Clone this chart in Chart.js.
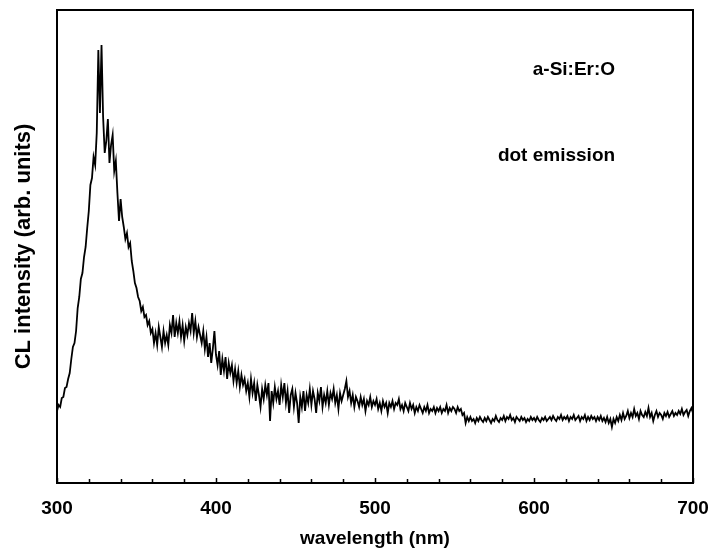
<!DOCTYPE html>
<html>
<head>
<meta charset="utf-8">
<script src="https://cdn.jsdelivr.net/npm/chart.js@4"></script>
<style>
  html, body { margin: 0; padding: 0; background: #fff; }
  #wrap { width: 713px; height: 550px; }
</style>
</head>
<body>
<div id="wrap"><canvas id="clChart" width="713" height="550"></canvas></div>
<script>
// CL spectrum, a-Si:Er:O dot emission (arb. units), 1 nm steps from 300 nm
const startWavelength = 300;
const intensity = [
  72, 78, 76, 85, 86, 95, 96, 104, 110, 124,
  136, 140, 152, 175, 186, 204, 210, 226, 236, 255,
  272, 298, 305, 326, 318, 350, 433, 370, 438, 366,
  330, 342, 364, 320, 338, 348, 312, 322, 290, 262,
  284, 266, 256, 244, 250, 236, 240, 222, 212, 200,
  195, 186, 182, 172, 176, 166, 168, 158, 162, 150,
  154, 140, 150, 138, 156, 146, 136, 152, 140, 148,
  138, 158, 150, 168, 146, 160, 150, 162, 146, 158,
  142, 156, 148, 160, 152, 170, 150, 162, 146, 156,
  148, 140, 152, 134, 146, 126, 140, 120, 134, 152,
  128, 118, 132, 108, 124, 112, 126, 104, 120, 110,
  118, 102, 114, 100, 112, 96, 108, 98, 104, 92,
  100, 86, 104, 90, 100, 82, 98, 88, 76, 94,
  84, 98, 88, 100, 62, 92, 80, 96, 84, 92,
  78, 98, 86, 100, 80, 92, 70, 88, 94, 76,
  90, 80, 60, 86, 76, 92, 72, 88, 80, 94,
  78, 92, 84, 70, 90, 82, 96, 76, 88, 80,
  92, 78, 90, 84, 94, 80, 88, 74, 90, 82,
  88, 94, 102, 86, 92, 80, 88, 76, 86, 82,
  76, 86, 78, 84, 72, 82, 78, 86, 76, 82,
  78, 84, 74, 80, 72, 82, 76, 80, 70, 80,
  76, 82, 74, 80, 78, 84, 74, 78, 72, 80,
  76, 72, 80, 74, 78, 70, 76, 72, 78, 74,
  70, 76, 72, 78, 70, 74, 72, 76, 70, 75,
  72, 76, 70, 74, 72, 78, 70, 75, 72, 76,
  74, 70, 76, 72, 74, 68, 70, 60, 66, 62,
  66, 62, 64, 60, 65, 62, 66, 63, 61, 65,
  62, 66, 63, 60, 64, 62, 67, 63, 61, 65,
  63, 67, 62, 66, 64, 68, 63, 65, 61, 66,
  64, 62, 66, 63, 65, 61, 64, 62, 66, 63,
  65, 62, 66, 63, 61, 65, 63, 66, 62, 64,
  66, 63, 67, 64, 62, 66, 64, 68, 63, 66,
  64, 67, 62, 66, 64, 68, 63, 65, 67, 62,
  66, 64, 68, 62, 66, 63, 67, 64, 66, 62,
  66, 63, 67, 62, 65, 61, 66, 60, 64, 56,
  64, 60, 66, 62, 68, 63, 70, 64, 67, 72,
  65, 70, 66, 74, 67, 70, 64, 72, 68, 66,
  71, 67, 75, 66, 70, 62, 68, 72, 66, 70,
  68, 64, 70, 67, 71, 66, 69, 72, 67, 70,
  68, 72, 69, 74, 68, 71, 73, 67, 72, 75,
  70
];
const xTickValues = [300, 400, 500, 600, 700];
const annotations = [
  { text: 'a-Si:Er:O', x: 651, y: 413 },
  { text: 'dot emission', x: 651, y: 327 }
];

const points = intensity.map((v, i) => ({ x: startWavelength + i, y: v }));

const FONT = "'Liberation Sans', Arial, sans-serif";
Chart.defaults.font.family = FONT;
Chart.defaults.color = '#000';

// box frame, inward ticks and text labels
const framePlugin = {
  id: 'frame',
  afterDraw(chart) {
    const { ctx, chartArea: a, scales } = chart;
    ctx.save();
    ctx.strokeStyle = '#000';
    ctx.lineWidth = 1.5;
    scales.x.ticks.forEach(t => {
      const px = Math.round(scales.x.getPixelForValue(t.value)) + 0.5;
      const len = (t.value % 100 === 0) ? 5 : 4;
      ctx.beginPath();
      ctx.moveTo(px, a.bottom);
      ctx.lineTo(px, a.bottom - len);
      ctx.stroke();
    });
    ctx.lineWidth = 2;
    ctx.strokeRect(a.left, a.top, a.right - a.left, a.bottom - a.top);

    ctx.fillStyle = '#000';
    ctx.font = 'bold 19px ' + FONT;
    ctx.textAlign = 'right';
    ctx.textBaseline = 'middle';
    annotations.forEach(n => {
      ctx.fillText(n.text, scales.x.getPixelForValue(n.x), scales.y.getPixelForValue(n.y));
    });
    ctx.restore();
  }
};

new Chart(document.getElementById('clChart').getContext('2d'), {
  type: 'line',
  data: {
    datasets: [{
      data: points,
      borderColor: '#000',
      borderWidth: 1.8,
      pointRadius: 0,
      tension: 0,
      fill: false
    }]
  },
  options: {
    responsive: false,
    animation: false,
    layout: { padding: { top: 10, right: 20, left: 0, bottom: 0 } },
    plugins: { legend: { display: false }, tooltip: { enabled: false } },
    scales: {
      x: {
        type: 'linear',
        min: 300,
        max: 700,
        grid: { display: false, drawTicks: false },
        border: { display: false },
        afterFit: s => { s.height = 67; s.paddingLeft = 0; s.paddingRight = 0; },
        afterBuildTicks: s => {
          const ticks = [];
          for (let v = 300; v <= 700; v += 20) ticks.push({ value: v });
          s.ticks = ticks;
        },
        ticks: {
          autoSkip: false,
          maxRotation: 0,
          padding: 14,
          font: { size: 19, weight: 'bold' },
          callback: v => xTickValues.includes(v) ? String(v) : ''
        },
        title: {
          display: true,
          text: 'wavelength (nm)',
          font: { size: 19, weight: 'bold' },
          padding: { top: 0, bottom: 0 }
        }
      },
      y: {
        min: 0,
        max: 473,
        grid: { display: false, drawTicks: false },
        border: { display: false },
        ticks: { display: false },
        afterFit: s => { s.width = 57; },
        title: {
          display: true,
          text: 'CL intensity (arb. units)',
          font: { size: 22, weight: 'bold' },
          padding: { top: 11, bottom: 0 }
        }
      }
    }
  },
  plugins: [framePlugin]
});
</script>
</body>
</html>
